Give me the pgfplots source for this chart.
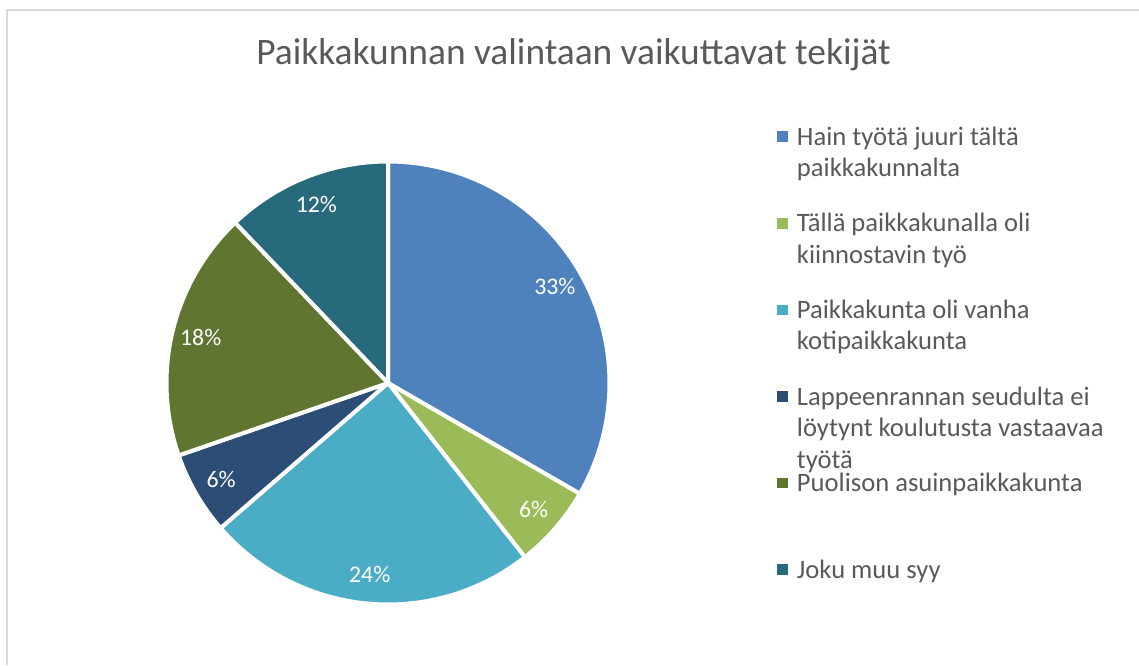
\documentclass[border=0pt]{standalone}
\usepackage{pgfplots}
\pgfplotsset{compat=1.18}
\usepackage{fontspec}
\setmainfont{Carlito}

\definecolor{s1}{HTML}{4F81BD}
\definecolor{s2}{HTML}{9BBB59}
\definecolor{s3}{HTML}{4BACC6}
\definecolor{s4}{HTML}{2C4D75}
\definecolor{s5}{HTML}{5F7530}
\definecolor{s6}{HTML}{276A7C}
\definecolor{txt}{HTML}{595959}
\definecolor{frame}{HTML}{D9D9D9}

\tikzset{pct/.style={text=white, font=\fontsize{11.9}{14}\selectfont}}

% answers out of 33 respondents
\def\total{33}
\gdef\cum{0}

% one pie slice: count, colour, legend text
\newcommand\slice[3]{%
  \pgfmathsetmacro\a{90-360*\cum/\total}%
  \pgfmathsetmacro\b{90-360*(\cum+#1)/\total}%
  \pgfmathsetmacro\m{(\a+\b)/2}%
  \pgfmathtruncatemacro\pct{round(100*#1/\total)}%
  \edef\tmp{%
    \noexpand\addplot[fill=#2, draw=white, line width=2pt, line join=round, domain=\b:\a, samples=90]
      ({cos(x)}, {sin(x)}) -- (axis cs:0,0) -- cycle;
    \noexpand\node[pct] at (axis cs:{0.87*cos(\m)},{0.87*sin(\m)}) {\pct\noexpand\%};}%
  \tmp
  \addlegendentry{\parbox[t][43.3pt][t]{180pt}{\strut #3}}%
  \pgfmathparse{\cum+#1}\xdef\cum{\pgfmathresult}%
}

\begin{document}
\begin{tikzpicture}
\useasboundingbox (0,0) rectangle (569.5pt,332.5pt);
\draw[frame, line width=1pt] (3.5pt,0) -- (3.5pt,327.5pt) -- (569.5pt,327.5pt);
\begin{axis}[
    at={(194pt,141pt)}, anchor=center,
    width=221.5pt, height=221.5pt, scale only axis,
    xmin=-1, xmax=1, ymin=-1, ymax=1,
    hide axis, clip=false,
    title={Paikkakunnan valintaan vaikuttavat tekijät},
    title style={at={(0.9187,1.192)}, anchor=base, text=txt,
      font=\fontsize{18.7}{22}\selectfont},
    legend image code/.code={\fill[#1, draw=none] (0pt,1.6pt) rectangle (5.3pt,6.9pt);},
    legend style={at={(1.378,1.0865)}, anchor=north west, draw=none, fill=none,
      inner sep=0pt, outer sep=0pt, row sep=0pt, column sep=4.7pt,
      nodes={inner sep=0pt, text depth=}, cells={anchor=base west},
      text=txt, font=\fontsize{13.3}{15.75}\selectfont},
]
\slice{11}{s1}{Hain työtä juuri tältä\\paikkakunnalta}
\slice{2}{s2}{Tällä paikkakunalla oli\\kiinnostavin työ}
\slice{8}{s3}{Paikkakunta oli vanha\\kotipaikkakunta}
\slice{2}{s4}{Lappeenrannan seudulta ei\\löytynt koulutusta vastaavaa\\työtä}
\slice{6}{s5}{Puolison asuinpaikkakunta}
\slice{4}{s6}{Joku muu syy}
\end{axis}
\end{tikzpicture}
\end{document}
